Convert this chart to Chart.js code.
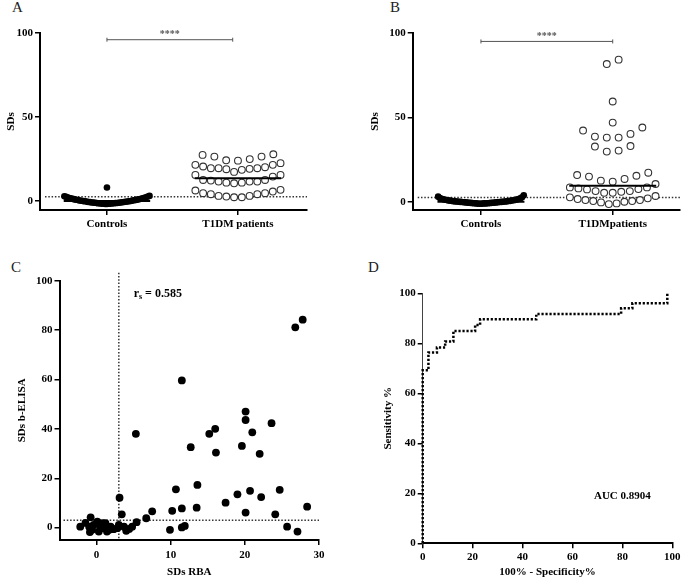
<!DOCTYPE html>
<html>
<head>
<meta charset="utf-8">
<script src="https://cdn.jsdelivr.net/npm/chart.js@4.4.1/dist/chart.umd.min.js"></script>
<style>
  body { margin: 0; background: #fff; width: 685px; height: 579px; position: relative; overflow: hidden; font-family: "Liberation Serif", serif; }
  canvas { position: absolute; }
  .tag { position: absolute; font-size: 15px; line-height: 1; color: #222; }
</style>
</head>
<body>
<div class="tag" style="left:12px;top:0px">A</div>
<div class="tag" style="left:390px;top:0px">B</div>
<div class="tag" style="left:11px;top:260px">C</div>
<div class="tag" style="left:368px;top:260px">D</div>
<canvas id="chartA"></canvas>
<canvas id="chartB"></canvas>
<canvas id="chartC"></canvas>
<canvas id="chartD"></canvas>
<script>
// panels A and B: SDs by group
const groupsA = ["Controls", "T1DM patients"]
const groupsB = ["Controls", "T1DMpatients"]
const controlsA = [-1.8, -1.8, -1.7, -1.7, -1.6, -1.6, -1.5, -1.5, -1.4, -1.4, -1.3, -1.3, -1.2, -1.1, -1.1, -1.0, -0.9, -0.9, -0.8, -0.7,
  -0.6, -0.6, -0.5, -0.4, -0.3, -0.2, -0.2, -0.1, 0.0, 0.1, 0.2, 0.3, 0.4, 0.5, 0.6, 0.7, 0.8, 0.9, 1.0, 1.2,
  1.3, 1.4, 1.6, 1.7, 1.9, 2.0, 2.2, 2.4, 2.6, 2.8, 3.0, 8.0]
const patientsA = [27.4, 26.4, 24.2, 24.0, 24.9, 26.4, 27.8,
  21.5, 20.1, 19.5, 19.5, 18.9, 17.3, 18.5, 19.1, 19.5, 20.5, 21.5, 22.5,
  15.5, 14.5, 12.5, 11.5, 10.9, 10.5, 10.9, 11.5, 11.5, 12.1, 12.5, 15.5,
  6.6, 5.6, 4.6, 4.0, 3.0, 2.6, 2.2, 2.2, 3.0, 4.0, 4.6, 6.2]
const controlsB = [-1.2, -1.2, -1.1, -1.1, -1.0, -1.0, -1.0, -0.9, -0.9, -0.8, -0.8, -0.7, -0.7, -0.6, -0.6, -0.5, -0.5, -0.4, -0.4, -0.3,
  -0.3, -0.2, -0.2, -0.1, -0.1, 0.0, 0.0, 0.1, 0.1, 0.2, 0.2, 0.3, 0.4, 0.5, 0.5, 0.6, 0.7, 0.8, 0.9, 1.0,
  1.1, 1.2, 1.3, 1.5, 1.6, 1.8, 2.0, 2.2, 2.6, 3.0, 3.8]
const patientsB = [84.2, 81.6, 59.4, 46.9, 42.2, 38.6, 38.0, 38.0, 40.2, 44.0, 33.0, 30.3, 29.7, 32.7,
  17.2, 15.4, 13.5, 11.9, 12.5, 14.9, 15.8,
  8.5, 7.5, 6.3, 5.9, 5.3, 5.3, 6.3, 7.3, 7.9, 8.5, 10.5,
  2.0, 1.0, 0.4, 0.0, -1.0, -1.4, -0.4, 0.4, 1.0, 1.6, 2.6, 3.4]
const mediansA = [0, 13.5]
const mediansB = [0, 9.5]
const cutoffAB = 2.5
const sigLevelA = 96
const sigLevelB = 95
const sigText = "****"
const ticksAB = [0, 50, 100]

// panel C: correlation
const rbaSD = [27.8, 26.8, 11.5, 20.1, 20.1, 23.6, 21.0, 5.3, 15.2, 16.0, 19.6, 12.7, 16.1, 22.0, 13.6, 10.7, 24.7, 20.7, 19.0, 22.2,
  3.1, 17.4, 13.5, 11.5, 28.4, 10.2, 20.1, 24.1, 7.5, 6.7, 3.4, 5.4, 9.9, 11.5, 11.9, 25.7, 27.1,
  -0.8, -2.2, -1.5, -0.4, 0.1, 0.5, 1.2, 1.9, 2.3, 3.0, 3.7, 4.4, 4.8, -0.6, 0.3, 1.0, 1.7, -1.0, 0.8, 1.4, -0.9, 2.8, 4.0]
const elisaSD = [84.2, 81.1, 59.6, 47.0, 43.6, 42.3, 38.6, 38.0, 38.0, 40.0, 33.1, 32.6, 30.4, 29.9, 17.3, 15.5, 15.3, 14.9, 13.5, 12.4,
  12.1, 10.1, 8.1, 7.8, 8.5, 6.8, 6.1, 5.4, 6.6, 3.8, 5.4, 2.2, -0.9, 0.1, 0.7, 0.4, -1.6,
  4.2, 0.4, 1.9, 1.1, 2.4, 0.3, 1.8, 0.4, -0.6, 1.1, 0.4, -0.5, 0.4, -0.9, -1.6, -0.2, -0.9, 0.4, 1.8, -1.6, -1.8, -0.2, -1.3]
const cutoffC = 3
const ticksCx = [0, 10, 20, 30]
const ticksCy = [0, 20, 40, 60, 80, 100]
const rsValue = "0.585"

// panel D: ROC
const rocFpr = [0, 0, 2.3, 5.7, 9.0, 12.3, 21.0, 23.0, 45.5, 79.5, 84.0, 98.0]
const rocTpr = [0, 69.2, 76.3, 78.3, 80.7, 84.9, 87.3, 89.6, 91.7, 94.0, 96.0, 100.5]
const ticksD = [0, 20, 40, 60, 80, 100]
const aucValue = "0.8904"

const serif = "'Liberation Serif', 'Times New Roman', serif"
Chart.defaults.font.family = serif
Chart.defaults.font.weight = "bold"
Chart.defaults.font.size = 11
Chart.defaults.color = "#000"

const ROW_SPAN = 6.5
const SWARM_STEP = 0.09
const SWARM_WIDTH = 0.65
const MEDIAN_HALF = 0.33

// GraphPad-like rows: sorted values grouped, lowest in the middle of each row
function swarm(values, center) {
    const sorted = values.slice().sort((a, b) => a - b)
    const rows = []
    sorted.forEach(v => {
        const row = rows[rows.length - 1]
        if (row && v - row[0] <= ROW_SPAN) row.push(v)
        else rows.push([v])
    })
    const pts = []
    rows.forEach(row => {
        const n = row.length
        const gap = n > 1 ? Math.min(SWARM_STEP, SWARM_WIDTH / (n - 1)) : 0
        const slots = row.map((_, i) => (i - (n - 1) / 2) * gap)
        slots.sort((a, b) => Math.abs(a) - Math.abs(b) || a - b)
        row.forEach((v, i) => pts.push({x: center + slots[i], y: v}))
    })
    return pts
}

function frame(id, g) {
    const c = document.getElementById(id)
    c.width = g.w
    c.height = g.h
    c.style.left = g.left + "px"
    c.style.top = g.top + "px"
    return c
}

function axis(min, max, tickVals, fit, extra) {
    return Object.assign({
        type: "linear",
        min: min,
        max: max,
        afterBuildTicks: s => { s.ticks = tickVals.map(v => ({value: v})) },
        afterFit: fit,
        grid: {display: true, drawOnChartArea: false, drawTicks: true, tickLength: 5, color: "#000", lineWidth: 1.5},
        border: {display: true, color: "#000", width: 2},
        ticks: {color: "#000", padding: 2, autoSkip: false, maxRotation: 0}
    }, extra)
}

function dotted(ctx, x0, y0, x1, y1) {
    ctx.save()
    ctx.strokeStyle = "#333"
    ctx.lineWidth = 1.5
    ctx.setLineDash([1.5, 1.8])
    ctx.beginPath()
    ctx.moveTo(x0, y0)
    ctx.lineTo(x1, y1)
    ctx.stroke()
    ctx.restore()
}

function medianSet(center, value) {
    return {
        data: [{x: center - MEDIAN_HALF, y: value}, {x: center + MEDIAN_HALF, y: value}],
        showLine: true, borderColor: "#000", borderWidth: 2, pointRadius: 0
    }
}

// plugin for dotted cut-off and the significance bar
function groupExtras(cutoff, sigLevel) {
    return {
        id: "groupExtras",
        beforeDatasetsDraw(chart) {
            const {ctx, chartArea: a, scales: {y}} = chart
            const py = y.getPixelForValue(cutoff)
            dotted(ctx, a.left + 5, py, a.right, py)
        },
        afterDatasetsDraw(chart) {
            const {ctx, scales: {x, y}} = chart
            const x0 = x.getPixelForValue(1), x1 = x.getPixelForValue(sigLevel.end)
            const py = y.getPixelForValue(sigLevel.y)
            ctx.save()
            ctx.strokeStyle = "#555"
            ctx.lineWidth = 1
            ctx.beginPath()
            ctx.moveTo(x0, py); ctx.lineTo(x1, py)
            ctx.moveTo(x0, py - 2); ctx.lineTo(x0, py + 2)
            ctx.moveTo(x1, py - 2); ctx.lineTo(x1, py + 2)
            ctx.stroke()
            ctx.fillStyle = "#555"
            ctx.font = "bold 10px " + serif
            ctx.textAlign = "center"
            ctx.textBaseline = "middle"
            ctx.fillText(sigText, (x0 + x1) / 2, py - 5)
            ctx.restore()
        }
    }
}

function groupChart(id, g, groups, controls, patients, medians, sig, yMin, titlePad) {
    const a = g.area
    new Chart(frame(id, g), {
        type: "scatter",
        data: {
            datasets: [
                medianSet(1, medians[0]),
                medianSet(2, medians[1]),
                {data: swarm(patients, 2), pointRadius: 3.4, pointBackgroundColor: "#fff", pointBorderColor: "#333", pointBorderWidth: 1.1},
                {data: swarm(controls, 1), pointRadius: 3.3, pointBackgroundColor: "#000", pointBorderColor: "#000", pointBorderWidth: 0}
            ]
        },
        options: {
            responsive: false, animation: false, devicePixelRatio: 1, events: [],
            layout: {padding: {left: 0, top: a.t, right: g.w - a.r, bottom: 0}},
            plugins: {legend: {display: false}, tooltip: {enabled: false}},
            scales: {
                x: axis(g.xMin, g.xMax, [1, 2], s => { s.height = g.h - a.b }, {
                    ticks: {color: "#000", padding: 3, autoSkip: false, maxRotation: 0, callback: v => groups[Math.round(v) - 1]}
                }),
                y: axis(yMin, 100, ticksAB, s => { s.width = a.l }, {
                    title: {display: true, text: "SDs", font: {size: 11, weight: "bold"}, padding: {top: titlePad, bottom: 0}}
                })
            }
        },
        plugins: [groupExtras(cutoffAB, sig)]
    })
}

groupChart("chartA", {left: 0, top: 0, w: 340, h: 250, area: {l: 40, t: 33, r: 307, b: 210}, xMin: 0.489, xMax: 2.527},
    groupsA, controlsA, patientsA, mediansA, {end: 1.96, y: sigLevelA}, -5.4, 4.4)
groupChart("chartB", {left: 340, top: 0, w: 345, h: 250, area: {l: 72.7, t: 33, r: 343, b: 210}, xMin: 0.482, xMax: 2.51},
    groupsB, controlsB, patientsB, mediansB, {end: 2, y: sigLevelB}, -4.9, 28.4)

// panel C
const gC = {left: 0, top: 255, w: 340, h: 324, area: {l: 59.5, t: 25.7, r: 319, b: 285}}
new Chart(frame("chartC", gC), {
    type: "scatter",
    data: {
        datasets: [{
            data: rbaSD.map((v, i) => ({x: v, y: elisaSD[i]})),
            pointRadius: 3.9, pointBackgroundColor: "#000", pointBorderColor: "#000", pointBorderWidth: 0
        }]
    },
    options: {
        responsive: false, animation: false, devicePixelRatio: 1, events: [],
        layout: {padding: {left: 0, top: gC.area.t, right: gC.w - gC.area.r, bottom: 0}},
        plugins: {legend: {display: false}, tooltip: {enabled: false}},
        scales: {
            x: axis(-5, 30, ticksCx, s => { s.height = gC.h - gC.area.b }, {
                ticks: {color: "#000", padding: 4, autoSkip: false, maxRotation: 0},
                title: {display: true, text: "SDs RBA", padding: {top: 0, bottom: 0.7}}
            }),
            y: axis(-5, 100, ticksCy, s => { s.width = gC.area.l }, {
                title: {display: true, text: "SDs b-ELISA", padding: {top: 15.1, bottom: 0}}
            })
        }
    },
    plugins: [{
        id: "corrExtras",
        beforeDatasetsDraw(chart) {
            const {ctx, chartArea: a, scales: {x, y}} = chart
            const px = x.getPixelForValue(cutoffC), py = y.getPixelForValue(cutoffC)
            dotted(ctx, px, a.top - 8, px, a.bottom)
            dotted(ctx, a.left + 4, py, a.right, py)
        },
        afterDatasetsDraw(chart) {
            const {ctx, scales: {x, y}} = chart
            let px = x.getPixelForValue(5)
            const py = y.getPixelForValue(94.6)
            ctx.save()
            ctx.fillStyle = "#000"
            ctx.textBaseline = "middle"
            ctx.font = "bold 12px " + serif
            ctx.fillText("r", px, py)
            px += ctx.measureText("r").width
            ctx.font = "bold 8px " + serif
            ctx.fillText("s", px, py + 3)
            px += ctx.measureText("s").width
            ctx.font = "bold 12px " + serif
            ctx.fillText(" = " + rsValue, px, py)
            ctx.restore()
        }
    }]
})

// panel D
const gD = {left: 340, top: 255, w: 345, h: 324, area: {l: 82.7, t: 38.3, r: 332.3, b: 288.3}}
const yAxisD = axis(0, 100, ticksD, s => { s.width = gD.area.l }, {
    title: {display: true, text: "Sensitivity %", padding: {top: 41.4, bottom: 0}}
})
yAxisD.border = {display: true, color: "#444", width: 1}
new Chart(frame("chartD", gD), {
    type: "scatter",
    data: {
        datasets: [{
            data: rocFpr.map((v, i) => ({x: v, y: rocTpr[i]})),
            showLine: true, stepped: "before", borderColor: "#000", borderWidth: 2.5,
            borderDash: [2.2, 1.8], borderCapStyle: "butt", pointRadius: 0, clip: false
        }]
    },
    options: {
        responsive: false, animation: false, devicePixelRatio: 1, events: [],
        layout: {padding: {left: 0, top: gD.area.t, right: gD.w - gD.area.r, bottom: 0}},
        plugins: {legend: {display: false}, tooltip: {enabled: false}},
        scales: {
            x: axis(0, 100, ticksD, s => { s.height = gD.h - gD.area.b }, {
                ticks: {color: "#000", padding: 2, autoSkip: false, maxRotation: 0},
                title: {display: true, text: "100% - Specificity%", padding: {top: 0, bottom: 0.4}}
            }),
            y: yAxisD
        }
    },
    plugins: [{
        id: "rocExtras",
        afterDatasetsDraw(chart) {
            const {ctx, scales: {x, y}} = chart
            ctx.save()
            ctx.fillStyle = "#000"
            ctx.font = "bold 11px " + serif
            ctx.textAlign = "center"
            ctx.textBaseline = "middle"
            ctx.fillText("AUC " + aucValue, x.getPixelForValue(80), y.getPixelForValue(18.9))
            ctx.restore()
        }
    }]
})
</script>
</body>
</html>
